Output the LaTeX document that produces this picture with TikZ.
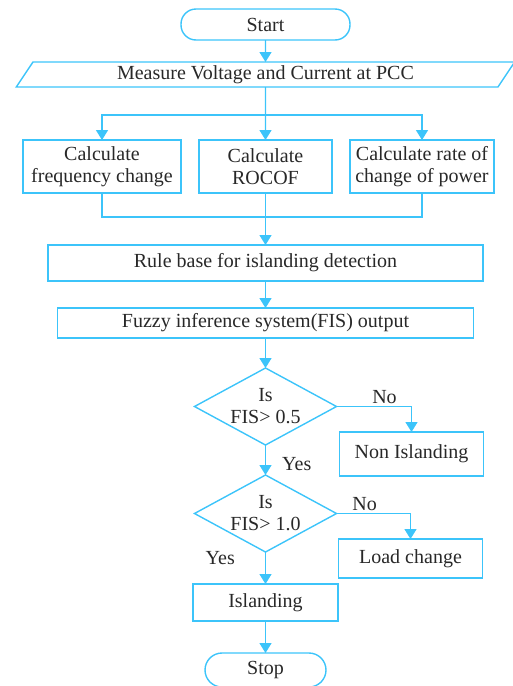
\documentclass[tikz,border=0pt]{standalone}
\usepackage{fontspec}
\setmainfont{Liberation Serif}
\usepackage{xcolor}
\usetikzlibrary{arrows.meta,positioning,shapes.geometric}
\definecolor{flowblue}{RGB}{60,196,250}
\definecolor{flowtext}{RGB}{40,40,40}

\begin{document}
\begin{tikzpicture}[
  font=\fontsize{20}{22}\selectfont, text=flowtext,
  box/.style={draw=flowblue, line width=1.4pt, align=center, inner sep=2pt, outer sep=0pt},
  term/.style={box, rounded corners=15pt},
  io/.style={box, trapezium, trapezium left angle=64, trapezium right angle=116, trapezium stretches=true},
  decide/.style={box, diamond, aspect=1.85, inner sep=0pt, minimum width=142pt, minimum height=77pt},
  link/.style={draw=flowblue, line width=1.4pt},
  arr/.style={link, -{Triangle[width=12pt,length=10pt]}},
  lbl/.style={inner sep=2pt}
]
\useasboundingbox (0,0) rectangle (512pt,-686pt);

\node[term, minimum width=169pt, minimum height=31pt] (start) at (265.5pt,-24.5pt) {Start};
\node[io, below=22pt of start, minimum width=499pt, minimum height=25pt] (measure) {Measure Voltage and Current at PCC};
\coordinate[below=28pt of measure] (split);
\node[box, below=53pt of measure, minimum width=133pt, minimum height=53pt] (rocof) {Calculate\\ROCOF};
\node[box, left=18pt of rocof, minimum width=158pt, minimum height=53pt] (freq) {Calculate\\frequency change};
\node[box, right=18pt of rocof, minimum width=144pt, minimum height=53pt] (power) {Calculate rate of\\change of power};
\coordinate[below=24pt of rocof] (join);
\node[box, below=52pt of rocof, minimum width=435pt, minimum height=36pt] (rule) {Rule base for islanding detection};
\node[box, below=27pt of rule, minimum width=416pt, minimum height=30pt] (fis) {Fuzzy inference system(FIS) output};
\node[decide, below=30pt of fis] (dec1) {Is\\FIS> 0.5};
\node[box, below right=25.5pt and 3pt of dec1.east, minimum width=144pt, minimum height=44pt] (nonisl) {Non Islanding};
\node[decide, below=30pt of dec1] (dec2) {Is\\FIS> 1.0};
\node[box, below right=25.5pt and 2pt of dec2.east, minimum width=144pt, minimum height=39pt] (loadch) {Load change};
\node[box, below=32pt of dec2, minimum width=145pt, minimum height=37pt] (isl) {Islanding};
\node[term, below=32pt of isl, minimum width=121pt, minimum height=34pt, rounded corners=17pt] (stop) {Stop};

\draw[arr] (start) -- (measure);
\draw[arr] (measure) -- (rocof);
\draw[arr] (split) -| (freq);
\draw[arr] (split) -| (power);
\draw[link] (freq) |- (join);
\draw[link] (power) |- (join);
\draw[arr] (rocof) -- (rule);
\draw[arr] (rule) -- (fis);
\draw[arr] (fis) -- (dec1);
\draw[arr] (dec1) -| node[lbl, above, pos=0.32]{No} (nonisl);
\draw[arr] (dec1) -- node[lbl, right=14pt, pos=0.63]{Yes} (dec2);
\draw[arr] (dec2) -| node[lbl, above, pos=0.19]{No} (loadch);
\draw[arr] (dec2) -- node[lbl, left=28pt, pos=0.19]{Yes} (isl);
\draw[arr] (isl) -- (stop);
\end{tikzpicture}
\end{document}
